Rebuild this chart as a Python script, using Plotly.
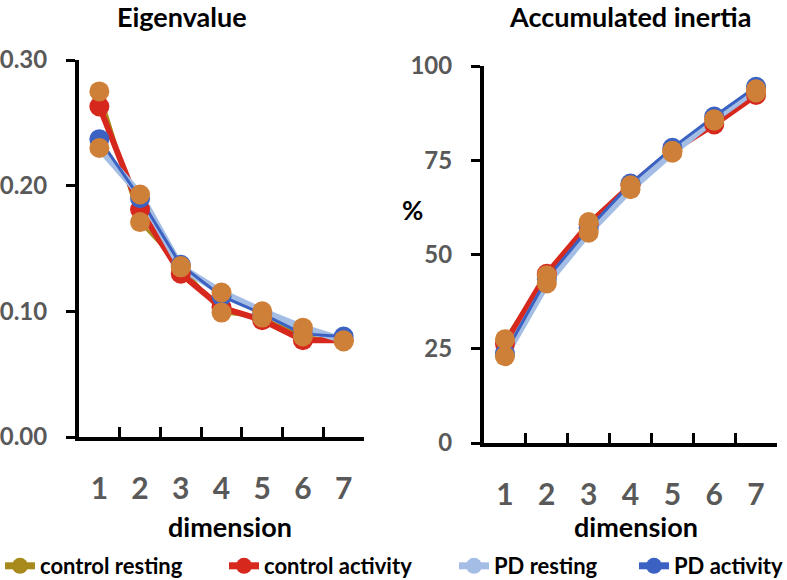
import plotly.graph_objects as go

dims = ["1", "2", "3", "4", "5", "6", "7"]

# Eigenvalues per dimension
eig_control_resting = [0.275, 0.171, 0.136, 0.099, 0.095, 0.080, 0.076]
eig_control_activity = [0.263, 0.181, 0.130, 0.103, 0.093, 0.077, 0.077]
eig_pd_resting = [0.230, 0.193, 0.135, 0.115, 0.100, 0.087, 0.077]
eig_pd_activity = [0.237, 0.190, 0.137, 0.112, 0.098, 0.082, 0.080]

# Accumulated inertia (%)
acc_control_resting = [27.5, 44.5, 58.6, 68.4, 77.5, 85.5, 93.0]
acc_control_activity = [26.3, 44.9, 58.0, 68.3, 77.5, 84.5, 92.3]
acc_pd_resting = [23.0, 42.3, 55.8, 67.3, 77.0, 85.9, 93.8]
acc_pd_activity = [23.7, 43.6, 56.9, 68.8, 78.3, 86.6, 94.5]

series_names = ["control resting", "control activity", "PD resting", "PD activity"]
eig_ticks = [0.0, 0.1, 0.2, 0.3]
eig_tick_text = ["0.00", "0.10", "0.20", "0.30"]
acc_ticks = [0, 25, 50, 75, 100]

C_OLIVE = "#A88A1C"
C_RED = "#D7281E"
C_LBLUE = "#A3BDE5"
C_BLUE = "#3B62C2"
C_ORANGE = "#CF8038"
GREY = "#595959"
FONT = "Lato"

W, H = 787, 580

fig = go.Figure()

line_specs = [
    (C_OLIVE, 3),   # control resting
    (C_RED, 6),     # control activity
    (C_LBLUE, 7),   # PD resting
    (C_BLUE, 3),    # PD activity
]
marker_colors = [C_ORANGE, C_RED, C_ORANGE, C_BLUE]
marker_order = [1, 3, 0, 2]

panels = [
    ("x", "y", [eig_control_resting, eig_control_activity, eig_pd_resting, eig_pd_activity]),
    ("x2", "y2", [acc_control_resting, acc_control_activity, acc_pd_resting, acc_pd_activity]),
]

for xa, ya, data in panels:
    for i, vals in enumerate(data):
        col, wid = line_specs[i]
        fig.add_trace(go.Scatter(x=dims, y=vals, xaxis=xa, yaxis=ya, mode="lines",
                                 line=dict(color=col, width=wid), showlegend=False,
                                 hoverinfo="skip"))
    for i in marker_order:
        fig.add_trace(go.Scatter(x=dims, y=data[i], xaxis=xa, yaxis=ya, mode="markers",
                                 marker=dict(color=marker_colors[i], size=20),
                                 showlegend=False, name=series_names[i]))

# legend entries
legend_cols = [C_OLIVE, C_RED, C_LBLUE, C_BLUE]
legend_ids = ["legend", "legend2", "legend3", "legend4"]
legend_px = [0, 224, 454, 634]
for i, nm in enumerate(series_names):
    fig.add_trace(go.Scatter(x=[None], y=[None], mode="lines+markers", name=nm,
                             line=dict(color=legend_cols[i], width=7),
                             marker=dict(color=legend_cols[i], size=20),
                             legend=legend_ids[i], showlegend=True, xaxis="x", yaxis="y"))

legend_common = dict(orientation="h", xref="container", yref="container",
                     y=(H - 566) / H, yanchor="middle", xanchor="left",
                     bgcolor="rgba(0,0,0,0)", borderwidth=0, itemwidth=30,
                     font=dict(family=FONT, size=22, color="black", weight="bold"))

xcommon = dict(type="category", range=[-0.5, 6.5], showline=True, linecolor="black",
               linewidth=4, ticks="inside", ticklen=10, tickwidth=3, tickcolor="black",
               tickson="boundaries", showgrid=False, zeroline=False, automargin=False,
               tickfont=dict(family=FONT, size=30, color=GREY, weight="bold"),
               ticklabelstandoff=22)
ycommon = dict(showline=True, linecolor="black", linewidth=4, ticks="outside", ticklen=9,
               tickwidth=3, tickcolor="black", showgrid=False, zeroline=False, automargin=False,
               tickfont=dict(family=FONT, size=24, color=GREY, weight="bold"),
               ticklabelstandoff=14)

fig.update_layout(
    width=W, height=H,
    margin=dict(l=0, r=0, t=0, b=0, autoexpand=False),
    paper_bgcolor="white", plot_bgcolor="white",
    font=dict(family=FONT),
    xaxis=dict(domain=[79 / W, 364 / W], anchor="y", **xcommon),
    yaxis=dict(domain=[143 / H, 520 / H], anchor="x", range=[0, 0.30],
               tickvals=eig_ticks, ticktext=eig_tick_text, **ycommon),
    xaxis2=dict(domain=[484 / W, 777 / W], anchor="y2", **xcommon),
    yaxis2=dict(domain=[137 / H, 514 / H], anchor="x2", range=[0, 100],
                tickvals=acc_ticks, **ycommon),
    legend=dict(x=legend_px[0] / W, **legend_common),
    legend2=dict(x=legend_px[1] / W, **legend_common),
    legend3=dict(x=legend_px[2] / W, **legend_common),
    legend4=dict(x=legend_px[3] / W, **legend_common),
)

ann_font = dict(family=FONT, color="black", weight="bold")
annotations = [
    dict(text="Eigenvalue", x=182 / W, y=(H - 16) / H, size=27),
    dict(text="Accumulated inertia", x=630 / W, y=(H - 16) / H, size=27),
    dict(text="dimension", x=229.5 / W, y=(H - 526) / H, size=27),
    dict(text="dimension", x=635.5 / W, y=(H - 526) / H, size=27),
    dict(text="%", x=412 / W, y=(H - 210) / H, size=26),
]
for a in annotations:
    fig.add_annotation(text=a["text"], x=a["x"], y=a["y"], xref="paper", yref="paper",
                       xanchor="center", yanchor="middle", showarrow=False,
                       font=dict(size=a["size"], **ann_font))

fig.write_html("out.html", config={"displayModeBar": False},
               post_script="document.body.style.margin='0px';document.body.style.padding='0px';")
